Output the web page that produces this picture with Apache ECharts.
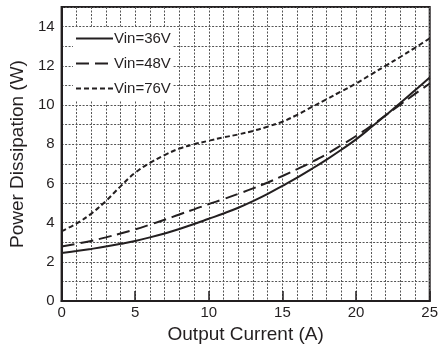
<!DOCTYPE html>
<html>
<head>
<meta charset="utf-8">
<script src="https://cdn.jsdelivr.net/npm/echarts@6/dist/echarts.min.js"></script>
<style>html,body{margin:0;padding:0;background:#fff;}#c{width:444px;height:349px;}</style>
</head>
<body>
<div id="c"></div>
<script>
var current = [0,1,2,3,4,5,6,7,8,9,10,11,12,13,14,15,16,17,18,19,20,21,22,23,24,25];
var vin36 = [2.45,2.55,2.66,2.78,2.92,3.07,3.25,3.45,3.68,3.93,4.2,4.47,4.76,5.1,5.47,5.88,6.3,6.75,7.22,7.72,8.25,8.85,9.47,10.1,10.75,11.4];
var vin48 = [2.78,2.92,3.07,3.25,3.45,3.66,3.9,4.15,4.42,4.68,4.95,5.2,5.47,5.75,6.05,6.38,6.73,7.1,7.5,7.95,8.42,8.93,9.47,10.02,10.57,11.1];
var vin76 = [3.57,3.95,4.45,5.1,5.85,6.55,7.05,7.45,7.78,8.0,8.18,8.35,8.5,8.68,8.9,9.15,9.5,9.9,10.3,10.7,11.1,11.55,12.0,12.45,12.92,13.4];
var seriesNames = ['Vin=36V','Vin=48V','Vin=76V'];
var xTitle = 'Output Current (A)';
var yTitle = 'Power Dissipation (W)';

function pairs(ys){ return current.map(function(x,i){ return [x, ys[i]]; }); }
var ink = '#231f20';
var gridCol = '#555';
var font = 'Liberation Sans, Arial, sans-serif';

var chart = echarts.init(document.getElementById('c'), null, {renderer:'canvas'});
chart.setOption({
  animation: false,
  backgroundColor: '#fff',
  grid: {left:57, right:14.3, top:7, bottom:47, show:true, borderColor:ink, borderWidth:2, backgroundColor:'transparent'},
  legend: {
    orient:'vertical', left:73, top:27, padding:[4,2,4,2],
    backgroundColor:'#fff', itemWidth:37, itemHeight:14, itemGap:10,
    itemStyle:{color:'transparent', borderColor:'transparent', borderWidth:0, opacity:0},
    textStyle:{fontFamily:font, fontSize:15, color:ink, padding:[0,0,0,-4]},
    data: seriesNames
  },
  xAxis: {
    type:'value', min:0, max:25, interval:5,
    name: xTitle, nameLocation:'middle', nameGap:21,
    nameTextStyle:{fontFamily:font, fontSize:19, color:ink},
    axisLine:{show:true, lineStyle:{color:ink, width:2}},
    axisTick:{show:true, inside:true, length:10, lineStyle:{color:ink, width:1.5}},
    axisLabel:{fontFamily:font, fontSize:15, color:ink, margin:4},
    splitLine:{show:true, lineStyle:{color:gridCol, type:[2,1.5], width:1}},
    minorTick:{show:false, splitNumber:5},
    minorSplitLine:{show:true, lineStyle:{color:gridCol, type:[2,1.5], width:1}}
  },
  yAxis: {
    type:'value', min:0, max:15, interval:1,
    name: yTitle, nameLocation:'middle', nameGap:33,
    nameTextStyle:{fontFamily:font, fontSize:19, color:ink},
    axisLine:{show:true, lineStyle:{color:ink, width:2}},
    axisTick:{show:false},
    axisLabel:{fontFamily:font, fontSize:15, color:ink, margin:7,
      formatter:function(v){ return (v % 2 === 0) ? String(v) : ''; }},
    splitLine:{show:true, lineStyle:{color:gridCol, type:[2,1.5], width:1}}
  },
  series: [
    {name:seriesNames[0], type:'line', data:pairs(vin36), smooth:0.4, symbol:'none', showSymbol:false,
     lineStyle:{color:ink, width:2, type:'solid'}, itemStyle:{color:ink}, z:3},
    {name:seriesNames[1], type:'line', data:pairs(vin48), smooth:0.4, symbol:'none', showSymbol:false,
     lineStyle:{color:ink, width:2, type:[13,6]}, itemStyle:{color:ink}, z:3},
    {name:seriesNames[2], type:'line', data:pairs(vin76), smooth:0.4, symbol:'none', showSymbol:false,
     lineStyle:{color:ink, width:2, type:[5,3]}, itemStyle:{color:ink}, z:3}
  ]
});
</script>
</body>
</html>
